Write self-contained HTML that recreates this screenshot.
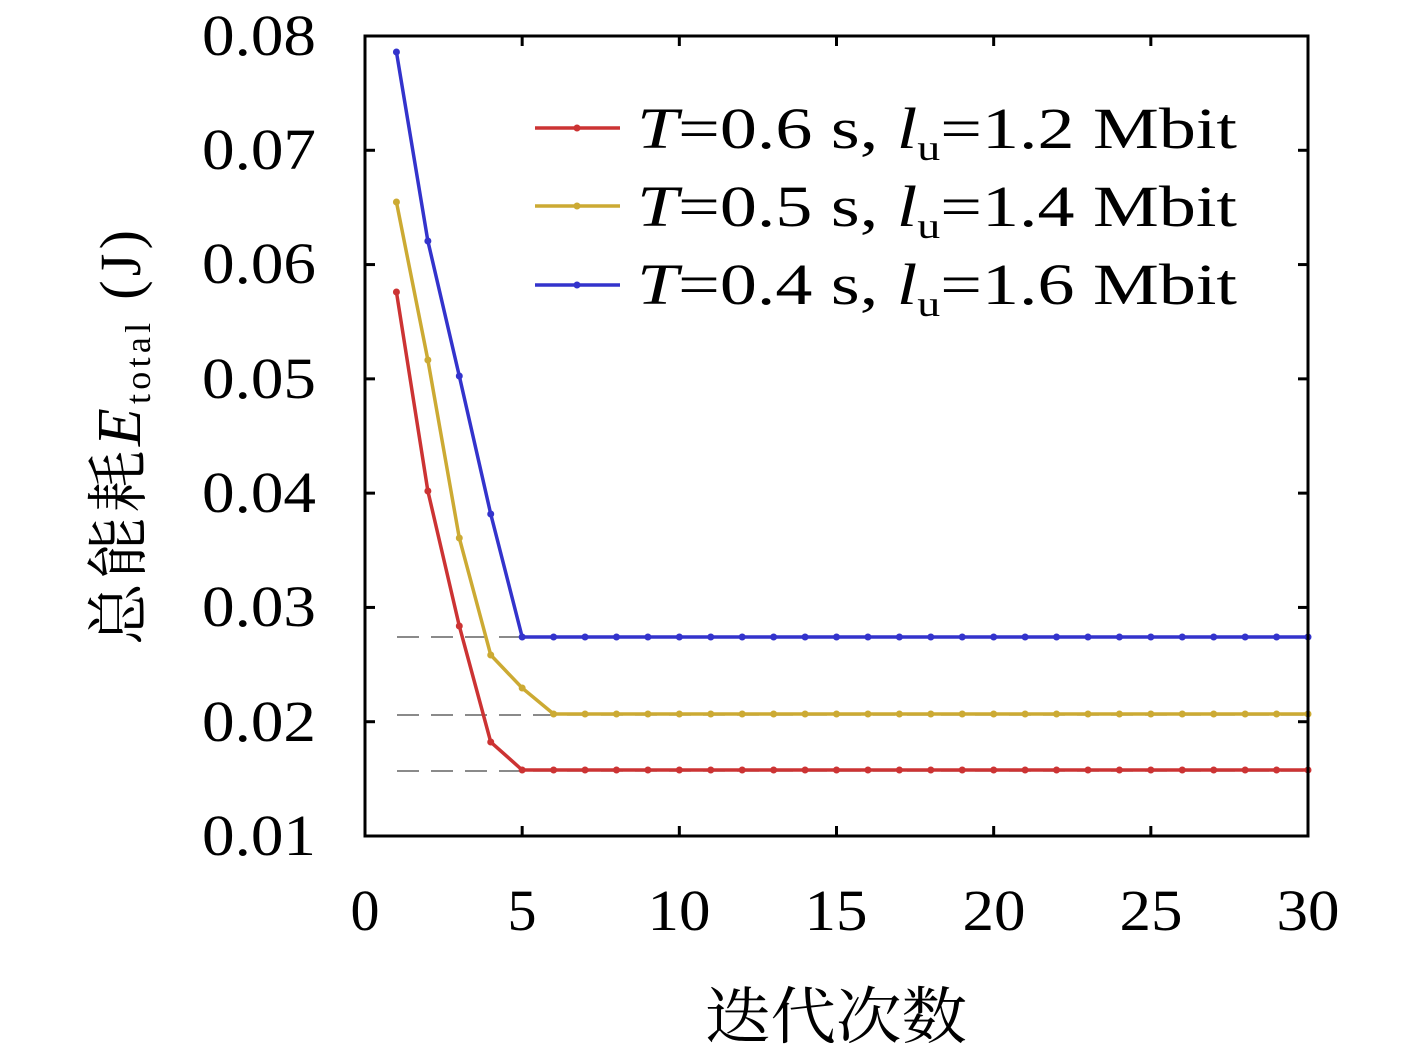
<!DOCTYPE html>
<html><head><meta charset="utf-8"><style>
html,body{margin:0;padding:0;background:#fff;}
svg text{font-family:"Liberation Serif","Noto Serif CJK SC",serif;fill:#000;}
</style></head><body>
<svg id="s" width="1417" height="1050" viewBox="0 0 1417 1050" xmlns="http://www.w3.org/2000/svg">
<g stroke="#444" stroke-width="1.3" stroke-dasharray="22,12" fill="none">
<line x1="397" y1="637" x2="1308" y2="637"/>
<line x1="397" y1="715" x2="1308" y2="715"/>
<line x1="397" y1="771" x2="1308" y2="771"/>
</g>
<g id="series"></g>
<rect x="365" y="36" width="943" height="800" fill="none" stroke="#000" stroke-width="3"/>
<g id="ticks" stroke="#000" stroke-width="3"></g>
<g font-size="58" text-anchor="end">
<text x="316" y="55" textLength="114" lengthAdjust="spacingAndGlyphs">0.08</text>
<text x="316" y="169" textLength="114" lengthAdjust="spacingAndGlyphs">0.07</text>
<text x="316" y="283" textLength="114" lengthAdjust="spacingAndGlyphs">0.06</text>
<text x="316" y="398" textLength="114" lengthAdjust="spacingAndGlyphs">0.05</text>
<text x="316" y="512" textLength="114" lengthAdjust="spacingAndGlyphs">0.04</text>
<text x="316" y="626" textLength="114" lengthAdjust="spacingAndGlyphs">0.03</text>
<text x="316" y="741" textLength="114" lengthAdjust="spacingAndGlyphs">0.02</text>
<text x="316" y="855" textLength="114" lengthAdjust="spacingAndGlyphs">0.01</text>
</g>
<g font-size="58" text-anchor="middle">
<text x="365" y="930">0</text>
<text x="522" y="930">5</text>
<text x="679" y="930" textLength="63" lengthAdjust="spacingAndGlyphs">10</text>
<text x="836" y="930" textLength="63" lengthAdjust="spacingAndGlyphs">15</text>
<text x="994" y="930" textLength="63" lengthAdjust="spacingAndGlyphs">20</text>
<text x="1151" y="930" textLength="63" lengthAdjust="spacingAndGlyphs">25</text>
<text x="1308" y="930" textLength="63" lengthAdjust="spacingAndGlyphs">30</text>
</g>
<text x="836" y="1038" font-size="62" text-anchor="middle" textLength="262" lengthAdjust="spacingAndGlyphs">迭代次数</text>
<g transform="translate(140,645) rotate(-90)">
<text x="0" y="0" font-size="62" textLength="415" lengthAdjust="spacing">总能耗<tspan font-style="italic">E</tspan><tspan font-size="36" dy="10">total</tspan><tspan dy="-10" font-size="58"> (J)</tspan></text>
</g>
<g font-size="58">
<line x1="535" y1="128" x2="620" y2="128" stroke="#cc3333" stroke-width="3.5"/>
<line x1="535" y1="206" x2="620" y2="206" stroke="#ccaa33" stroke-width="3.5"/>
<line x1="535" y1="285" x2="620" y2="285" stroke="#3333cc" stroke-width="3.5"/>
<circle cx="577" cy="128" r="3.5" fill="#cc3333"/>
<circle cx="577" cy="206" r="3.5" fill="#ccaa33"/>
<circle cx="577" cy="285" r="3.5" fill="#3333cc"/>
<text x="637" y="148" textLength="600" lengthAdjust="spacingAndGlyphs"><tspan font-style="italic">T</tspan>=0.6 s, <tspan font-style="italic">l</tspan><tspan font-size="36" dy="12">u</tspan><tspan dy="-12">=1.2 Mbit</tspan></text>
<text x="637" y="226" textLength="600" lengthAdjust="spacingAndGlyphs"><tspan font-style="italic">T</tspan>=0.5 s, <tspan font-style="italic">l</tspan><tspan font-size="36" dy="12">u</tspan><tspan dy="-12">=1.4 Mbit</tspan></text>
<text x="637" y="304" textLength="600" lengthAdjust="spacingAndGlyphs"><tspan font-style="italic">T</tspan>=0.4 s, <tspan font-style="italic">l</tspan><tspan font-size="36" dy="12">u</tspan><tspan dy="-12">=1.6 Mbit</tspan></text>
</g>
</svg>
<script>
var NS="http://www.w3.org/2000/svg";
function X(i){return 365+i*943/30;}
var data=[
 ["#cc3333",[292,491,626,742],770],
 ["#ccaa33",[202,360,538,655,688],714],
 ["#3333cc",[52,241,376,514],637]
];
var g=document.getElementById("series");
data.forEach(function(d){
  var ys=d[1].slice();while(ys.length<30)ys.push(d[2]);
  var pts=ys.map(function(y,i){return X(i+1)+","+y;}).join(" ");
  var pl=document.createElementNS(NS,"polyline");
  pl.setAttribute("points",pts);pl.setAttribute("fill","none");
  pl.setAttribute("stroke",d[0]);pl.setAttribute("stroke-width","3.5");
  g.appendChild(pl);
  ys.forEach(function(y,i){
    var c=document.createElementNS(NS,"circle");
    c.setAttribute("cx",X(i+1));c.setAttribute("cy",y);c.setAttribute("r","3.5");
    c.setAttribute("fill",d[0]);g.appendChild(c);
  });
});
var t=document.getElementById("ticks");
function ln(a,b,c,e){var l=document.createElementNS(NS,"line");l.setAttribute("x1",a);l.setAttribute("y1",b);l.setAttribute("x2",c);l.setAttribute("y2",e);t.appendChild(l);}
for(var k=0;k<=6;k++){var x=X(k*5);ln(x,836,x,826);ln(x,36,x,46);}
for(var k=0;k<=7;k++){var y=36+k*800/7;ln(365,y,375,y);ln(1308,y,1298,y);}
</script>
</body></html>
